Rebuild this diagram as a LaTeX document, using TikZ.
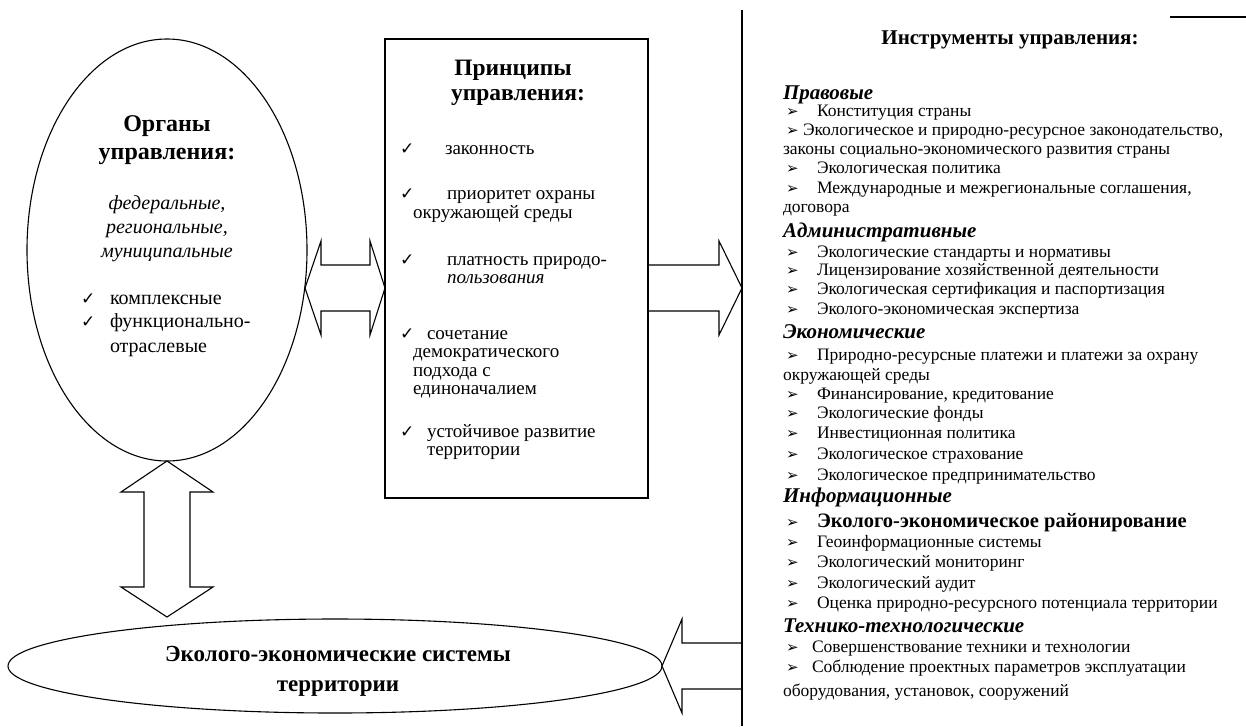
\documentclass[tikz,border=0pt]{standalone}
\usepackage{fontspec}
\setmainfont{Liberation Serif}
\newfontfamily\symf{DejaVu Sans}
\usetikzlibrary{shapes.geometric,calc}
\begin{document}
\begin{tikzpicture}[x=1pt,y=-1pt]
\tikzset{
 shp/.style={draw=black, line width=1.1pt},
 tx/.style={inner sep=0pt, outer sep=0pt},
 tl/.style={tx, anchor=base west},
 tc/.style={tx, anchor=base},
 fR/.style={font=\fontsize{17.5}{20}\selectfont},
 fRh/.style={font=\fontsize{21}{23}\selectfont\bfseries\itshape},
 fRt/.style={font=\fontsize{21}{24}\selectfont\bfseries},
 fRb/.style={font=\fontsize{20.5}{24}\selectfont\bfseries},
 fB/.style={font=\fontsize{19}{22}\selectfont},
 fBi/.style={font=\fontsize{19}{22}\selectfont\itshape},
 fBt/.style={font=\fontsize{23.5}{26}\selectfont\bfseries},
 fO/.style={font=\fontsize{20}{23}\selectfont},
 fOi/.style={font=\fontsize{20}{23}\selectfont\itshape},
 fOt/.style={font=\fontsize{24}{28}\selectfont\bfseries},
 fS/.style={font=\fontsize{23}{26}\selectfont\bfseries},
 chk/.style={tx, anchor=base west, font=\symf\bfseries\fontsize{17}{17}\selectfont},
 bul/.style={tx, anchor=base west, font=\symf\bfseries\fontsize{15}{15}\selectfont},
}
\useasboundingbox (0,0) rectangle (1246,726);
\fill[white] (0,0) rectangle (1246,726);

% ---- shapes ----
\node[shp, ellipse, minimum width=280, minimum height=422, inner sep=0pt] (org) at (167,250) {};
\node[shp, rectangle, minimum width=263, minimum height=459, inner sep=0pt] (prin) at (516.5,268.5) {};
\node[shp, ellipse, minimum width=654, minimum height=94, inner sep=0pt] (sys) at (335,666) {};

\coordinate (vtop) at (742,10);
\coordinate (vbot) at (742,726);
\draw[shp] (vtop) -- (vbot);
\coordinate (tlA) at (1170,17);
\coordinate (tlB) at (1246,17);
\draw[shp] (tlA) -- (tlB);

% horizontal double arrow
\coordinate (hL) at (305,288);
\coordinate (hR) at (385,288);
\draw[shp] (hL) -- ++(16,-47) -- ++(0,24) -- ($(hR)+(-15,-23)$) -- ++(0,-24) -- (hR)
  -- ++(-15,47) -- ++(0,-24) -- ($(hL)+(16,23)$) -- ++(0,24) -- cycle;

% right arrow box -> line
\coordinate (rA) at (648,288);
\coordinate (rB) at (742,288);
\draw[shp] ($(rA)+(0,-23)$) -- ($(rB)+(-23,-23)$) -- ++(0,-24) -- (rB) -- ++(-23,47)
  -- ++(0,-24) -- ($(rA)+(0,23)$);

% bottom arrow line -> systems
\coordinate (bA) at (742,666);
\coordinate (bT) at (662,666);
\draw[shp] ($(bA)+(0,-23)$) -- ($(bT)+(20,-23)$) -- ++(0,-24) -- (bT) -- ++(20,47)
  -- ++(0,-24) -- ($(bA)+(0,23)$);

% vertical double arrow
\coordinate (vT) at (167,461);
\coordinate (vB) at (167,617);
\draw[shp] (vT) -- ++(46,31) -- ++(-23,0) -- ($(vB)+(23,-30)$) -- ++(23,0) -- (vB)
  -- ++(-46,-30) -- ++(23,0) -- ($(vT)+(-23,31)$) -- ++(-23,0) -- cycle;

% ---- left ellipse text ----
\node[tc, fOt] (o1) at (167,131) {Органы};
\node[tc, fOt] (o2) at (167,159) {управления:};
\node[tc, fOi] (o3) at (167,209) {федеральные,};
\node[tc, fOi] (o4) at (167,233) {региональные,};
\node[tc, fOi] (o5) at (167,257) {муниципальные};
\node[chk] (oc1) at (81,304) {✓};
\node[tl, fO] (o6) at (110,304) {комплексные};
\node[chk] (oc2) at (81,327) {✓};
\node[tl, fO] (o7) at (110,327) {функционально-};
\node[tl, fO] (o8) at (110,352) {отраслевые};

% ---- box text ----
\node[tc, fBt] (p1) at (513,75) {Принципы};
\node[tc, fBt] (p2) at (518,100) {управления:};
\node[chk] (pc1) at (400,154) {✓};
\node[tl, fB] (p3) at (445,154) {законность};
\node[chk] (pc2) at (400,199) {✓};
\node[tl, fB] (p4) at (447,199) {приоритет охраны};
\node[tl, fB] (p5) at (413,218) {окружающей среды};
\node[chk] (pc3) at (400,265) {✓};
\node[tl, fB] (p6) at (447,265) {платность природо-};
\node[tl, fBi] (p7) at (447,283) {пользования};
\node[chk] (pc4) at (400,339) {✓};
\node[tl, fB] (p8) at (427,339) {сочетание};
\node[tl, fB] (p9) at (413,357) {демократического};
\node[tl, fB] (p10) at (413,376) {подхода с};
\node[tl, fB] (p11) at (413,394) {единоначалием};
\node[chk] (pc5) at (400,437) {✓};
\node[tl, fB] (p12) at (427,437) {устойчивое развитие};
\node[tl, fB] (p13) at (427,455) {территории};

% ---- right column ----
\node[tc, fRt] (r0) at (1010,44) {Инструменты управления:};
\node[tl, fRh] (h1) at (783,99) {Правовые};
\node[bul] (b1) at (786,116) {➢}; \node[tl, fR] (r1) at (817,116) {Конституция страны};
\node[bul] (b2) at (786,135) {➢}; \node[tl, fR] (r2) at (803,135) {Экологическое и природно-ресурсное законодательство,};
\node[tl, fR] (r3) at (783,154) {законы социально-экономического развития страны};
\node[bul] (b4) at (786,173) {➢}; \node[tl, fR] (r4) at (817,173) {Экологическая политика};
\node[bul] (b5) at (786,193) {➢}; \node[tl, fR] (r5) at (817,193) {Международные и межрегиональные соглашения,};
\node[tl, fR] (r6) at (783,212) {договора};
\node[tl, fRh] (h2) at (783,237) {Административные};
\node[bul] (b7) at (786,257) {➢}; \node[tl, fR] (r7) at (817,257) {Экологические стандарты и нормативы};
\node[bul] (b8) at (786,275) {➢}; \node[tl, fR] (r8) at (817,275) {Лицензирование хозяйственной деятельности};
\node[bul] (b9) at (786,294) {➢}; \node[tl, fR] (r9) at (817,294) {Экологическая сертификация и паспортизация};
\node[bul] (b10) at (786,314) {➢}; \node[tl, fR] (r10) at (817,314) {Эколого-экономическая экспертиза};
\node[tl, fRh] (h3) at (783,338) {Экономические};
\node[bul] (b11) at (786,360) {➢}; \node[tl, fR] (r11) at (817,360) {Природно-ресурсные платежи и платежи за охрану};
\node[tl, fR] (r12) at (783,380) {окружающей среды};
\node[bul] (b13) at (786,399) {➢}; \node[tl, fR] (r13) at (817,399) {Финансирование, кредитование};
\node[bul] (b14) at (786,418) {➢}; \node[tl, fR] (r14) at (817,418) {Экологические фонды};
\node[bul] (b15) at (786,438) {➢}; \node[tl, fR] (r15) at (817,438) {Инвестиционная политика};
\node[bul] (b16) at (786,459) {➢}; \node[tl, fR] (r16) at (817,459) {Экологическое страхование};
\node[bul] (b17) at (786,480) {➢}; \node[tl, fR] (r17) at (817,480) {Экологическое предпринимательство};
\node[tl, fRh] (h4) at (783,502) {Информационные};
\node[bul] (b18) at (786,527) {➢}; \node[tl, fRb] (r18) at (817,527) {Эколого-экономическое районирование};
\node[bul] (b19) at (786,547) {➢}; \node[tl, fR] (r19) at (817,547) {Геоинформационные системы};
\node[bul] (b20) at (786,567) {➢}; \node[tl, fR] (r20) at (817,567) {Экологический мониторинг};
\node[bul] (b21) at (786,588) {➢}; \node[tl, fR] (r21) at (817,588) {Экологический аудит};
\node[bul] (b22) at (786,608) {➢}; \node[tl, fR] (r22) at (817,608) {Оценка природно-ресурсного потенциала территории};
\node[tl, fRh] (h5) at (783,632) {Технико-технологические};
\node[bul] (b23) at (786,652) {➢}; \node[tl, fR] (r23) at (812,652) {Совершенствование техники и технологии};
\node[bul] (b24) at (786,672) {➢}; \node[tl, fR] (r24) at (812,672) {Соблюдение проектных параметров эксплуатации};
\node[tl, fR] (r25) at (783,696) {оборудования, установок, сооружений};

% ---- bottom ellipse text ----
\node[tc, fS] (s1) at (338,661) {Эколого-экономические системы};
\node[tc, fS] (s2) at (338,691) {территории};
\end{tikzpicture}
\end{document}
